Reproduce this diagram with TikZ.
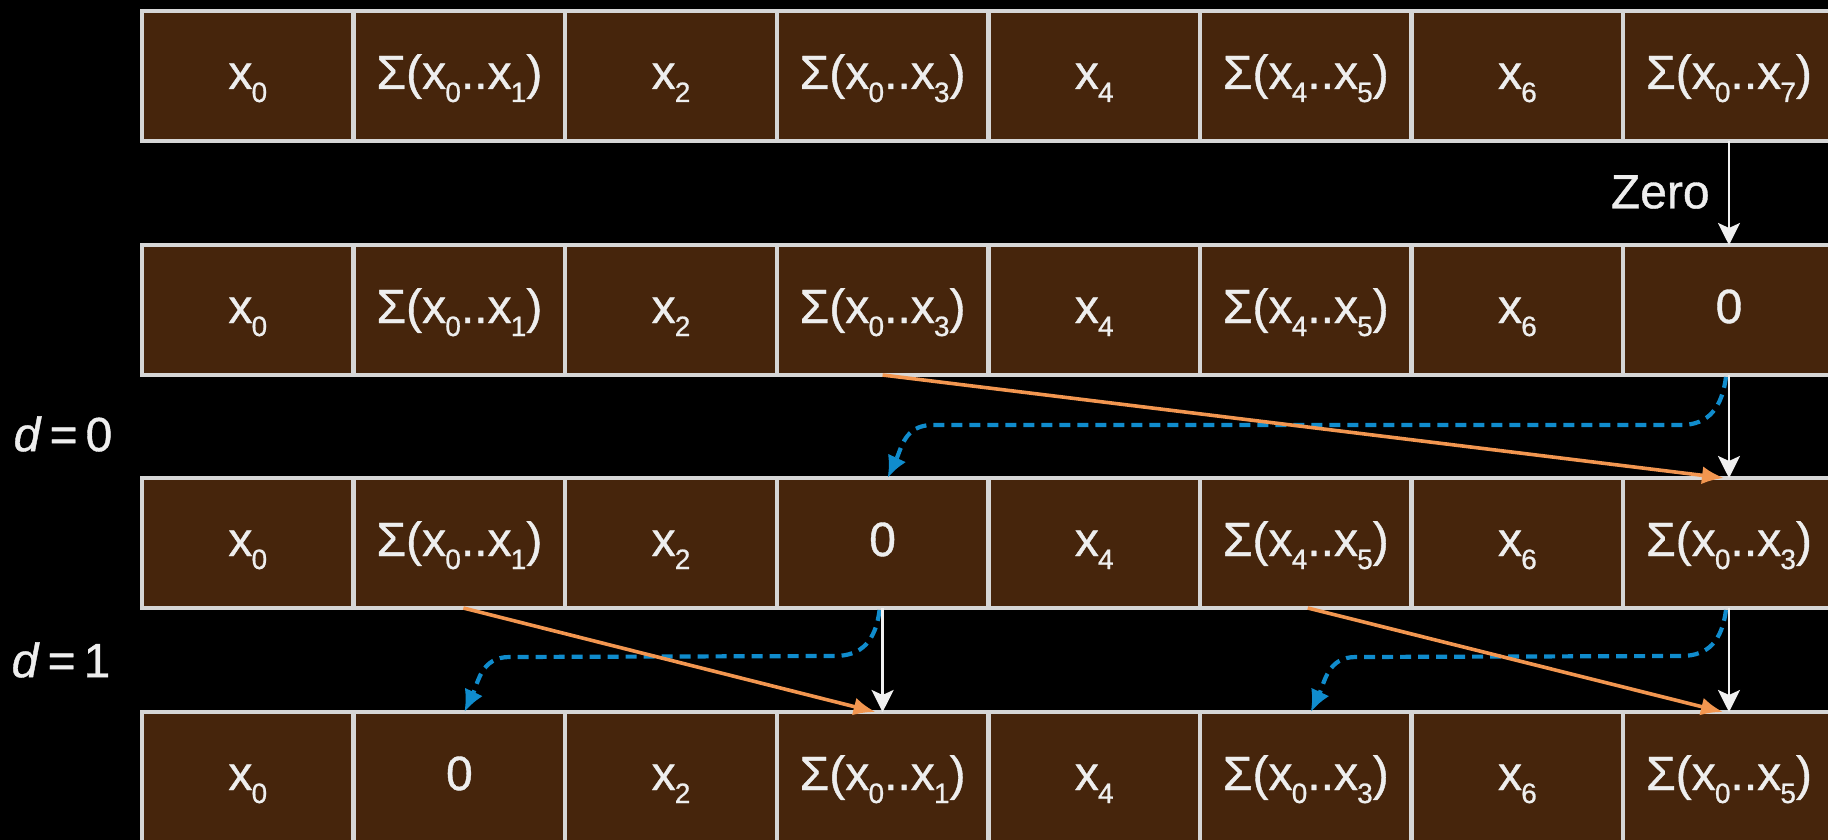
\documentclass[tikz,border=0pt]{standalone}
\usepackage{fontspec}
\usepackage{graphicx}
\setmainfont{Liberation Sans}[FakeBold=0.8,ItalicFeatures={FakeBold=0.8}]
\usetikzlibrary{arrows.meta,calc}
\definecolor{cellfill}{RGB}{70,37,12}
\definecolor{cellline}{RGB}{214,214,214}
\definecolor{celltext}{RGB}{238,238,238}
\definecolor{orangec}{RGB}{242,150,80}
\definecolor{bluec}{RGB}{16,140,205}
\definecolor{arrowwhite}{RGB}{240,240,240}
\newcommand\xs[1]{x\kern-0.4pt\raisebox{-6.5pt}{\fontsize{14}{14}\selectfont #1}}
\newcommand\rng[2]{Σ(\xs{#1}..\xs{#2})}
\begin{document}
\begin{tikzpicture}[x=0.5pt,y=-0.5pt,
  cell/.style={draw=cellline, line width=2.2pt, fill=cellfill,
    minimum width=105.8pt, minimum height=65pt, inner sep=0pt, outer sep=0pt,
    text=celltext, font=\fontsize{24}{28}\selectfont,
    text height=17pt, text depth=4pt},
  lbl/.style={text=celltext, inner sep=0pt, font=\fontsize{24}{28}\selectfont},
  whitearrow/.style={draw=arrowwhite, line width=1.4pt,
    -{Stealth[length=11pt,width=11pt,inset=2.5pt]}},
  orangearrow/.style={draw=orangec, line width=1.8pt,
    -{Latex[length=11pt,width=9pt]}},
  bluearrow/.style={draw=bluec, line width=2.1pt, dash pattern=on 5.5pt off 3.5pt,
    -{Latex[length=11pt,width=10pt]}}]
\useasboundingbox (0,0) rectangle (1828,840);
\clip (0,0) rectangle (1828,840);
\fill[black] (0,0) rectangle (1828,840);

% row 1
\foreach \t [count=\i] in {{\xs0},{\rng01},{\xs2},{\rng03},{\xs4},{\rng45},{\xs6},{\rng07}}
  \node[cell] (r1c\i) at (36.2+211.6*\i, 76) {\t};
% row 2
\foreach \t [count=\i] in {{\xs0},{\rng01},{\xs2},{\rng03},{\xs4},{\rng45},{\xs6},{0}}
  \node[cell] (r2c\i) at (36.2+211.6*\i, 310) {\t};
% row 3
\foreach \t [count=\i] in {{\xs0},{\rng01},{\xs2},{0},{\xs4},{\rng45},{\xs6},{\rng03}}
  \node[cell] (r3c\i) at (36.2+211.6*\i, 543) {\t};
% row 4
\foreach \t [count=\i] in {{\xs0},{0},{\xs2},{\rng01},{\xs4},{\rng03},{\xs6},{\rng05}}
  \node[cell] (r4c\i) at (36.2+211.6*\i, 777) {\t};

% labels
\node[lbl, anchor=east] (zero) at (1710,192) {Zero};
\node[lbl] (d0) at (63,434) {\textit{d}\,=\,0};
\node[lbl] (d1) at (61,660) {\textit{d}\,=\,1};

% zero step
\draw[whitearrow] (r1c8.south) -- (r2c8.north);

% d = 0
\draw[bluearrow] ($(r2c8.south)+(-3,2)$) .. controls +(-4,30) and +(28,0) .. ($(r2c8.south)+(-48,50)$)
  -- ($(r3c4.north)+(50,-53)$) .. controls +(-28,0) and +(14,-30) .. ($(r3c4.north)+(5,0)$);
\draw[orangearrow] (r2c4.south) -- ($(r3c8.north)+(-5,0)$);
\draw[whitearrow] (r2c8.south) -- (r3c8.north);

% d = 1
\draw[bluearrow] ($(r3c4.south)+(-3,2)$) .. controls +(-4,30) and +(28,0) .. ($(r3c4.south)+(-48,48)$)
  -- ($(r4c2.north)+(50,-55)$) .. controls +(-28,0) and +(14,-30) .. ($(r4c2.north)+(5,0)$);
\draw[bluearrow] ($(r3c8.south)+(-3,2)$) .. controls +(-4,30) and +(28,0) .. ($(r3c8.south)+(-48,48)$)
  -- ($(r4c6.north)+(50,-55)$) .. controls +(-28,0) and +(14,-30) .. ($(r4c6.north)+(5,0)$);
\draw[orangearrow] ($(r3c2.south)+(4,0)$) -- ($(r4c4.north)+(-7,0)$);
\draw[orangearrow] ($(r3c6.south)+(2,0)$) -- ($(r4c8.north)+(-6,0)$);
\draw[whitearrow] (r3c4.south) -- (r4c4.north);
\draw[whitearrow] (r3c8.south) -- (r4c8.north);
\end{tikzpicture}
\end{document}
